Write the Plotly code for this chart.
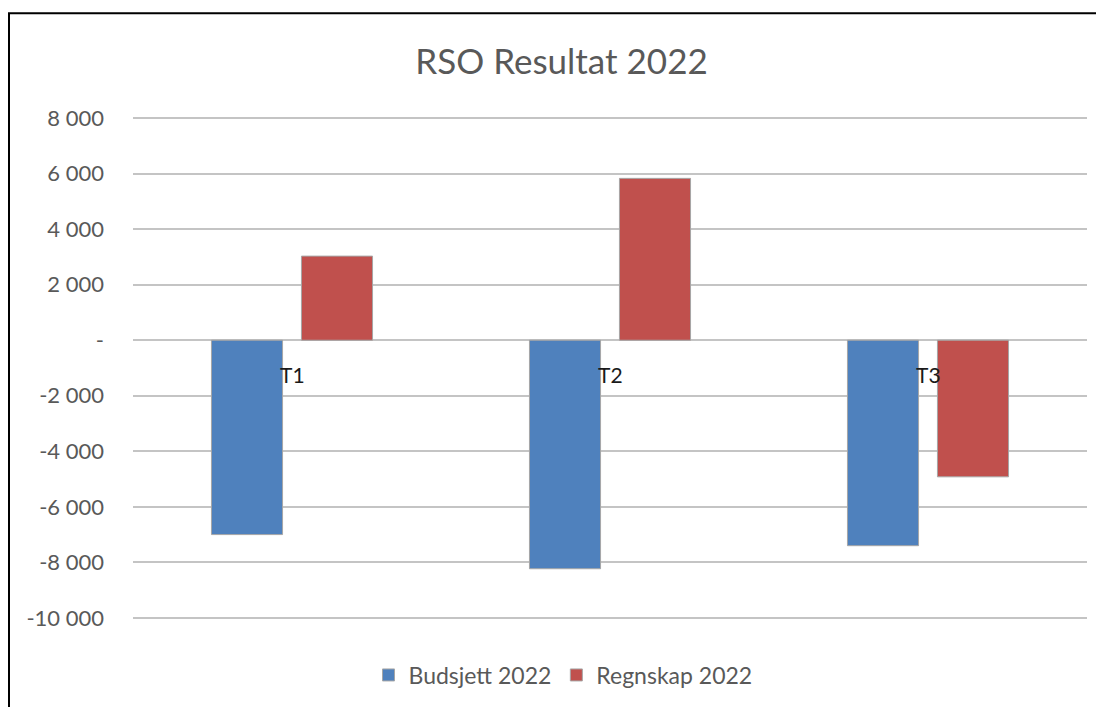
import plotly.graph_objects as go

categories = ["T1", "T2", "T3"]
budsjett = [-7000, -8230, -7400]
regnskap = [3030, 5830, -4920]

tick_vals = [8000, 6000, 4000, 2000, 0, -2000, -4000, -6000, -8000, -10000]
tick_text = ["8 000", "6 000", "4 000", "2 000", "-", "-2 000", "-4 000", "-6 000", "-8 000", "-10 000"]

FONT = "Lato, 'Open Sans', sans-serif"
GREY = "#595959"

# page has an 8px body margin, so the figure is a bit smaller than the window
W, H = 1096, 699
L, R, T, B = 125, 17, 109, 87
plot_h = H - T - B

fig = go.Figure()
fig.add_trace(go.Bar(
    x=categories, y=budsjett, name="Budsjett 2022",
    marker=dict(color="#4F81BD", line=dict(color="#A6A6A6", width=1)),
))
fig.add_trace(go.Bar(
    x=categories, y=regnskap, name="Regnskap 2022",
    marker=dict(color="#C0504D", line=dict(color="#A6A6A6", width=1)),
))

# category labels sit just under the zero line, like Excel does
for cat in categories:
    fig.add_annotation(
        x=cat, y=0, text=cat, showarrow=False,
        yanchor="middle", yshift=-34,
        font=dict(family=FONT, size=21, color="#1a1a1a"),
    )

# chart border (only top + left visible in the reference)
fig.add_shape(
    type="rect", xref="paper", yref="paper",
    x0=(1 - L) / 954, x1=1.05, y0=-0.25, y1=(plot_h + T - 5) / plot_h,
    line=dict(color="black", width=2), layer="above",
)

fig.update_layout(
    width=W, height=H,
    margin=dict(l=L, r=R, t=T, b=B),
    paper_bgcolor="white", plot_bgcolor="white",
    title=dict(
        text="RSO Resultat 2022", x=553.5 / W, xanchor="center",
        y=1 - 54 / H, yanchor="middle",
        font=dict(family=FONT, size=35, color=GREY),
    ),
    barmode="group", bargap=0.434, bargroupgap=0.21,
    showlegend=True,
    legend=dict(
        orientation="h", x=(555 - L) / 954, xanchor="center",
        y=-(667 - (H - B)) / plot_h, yanchor="middle",
        font=dict(family=FONT, size=23, color=GREY),
        itemwidth=30,
    ),
    font=dict(family=FONT, color=GREY),
)
fig.update_xaxes(showticklabels=False, showgrid=False, showline=False, zeroline=False)
fig.update_yaxes(
    range=[-10040, 8040],
    tickvals=tick_vals, ticktext=tick_text,
    showgrid=True, gridcolor="#C4C4C4", gridwidth=2,
    zeroline=True, zerolinecolor="#C4C4C4", zerolinewidth=2,
    showline=False,
    ticklabelstandoff=28,
    tickfont=dict(family=FONT, size=22, color=GREY),
)

fig.write_html("out.html")
